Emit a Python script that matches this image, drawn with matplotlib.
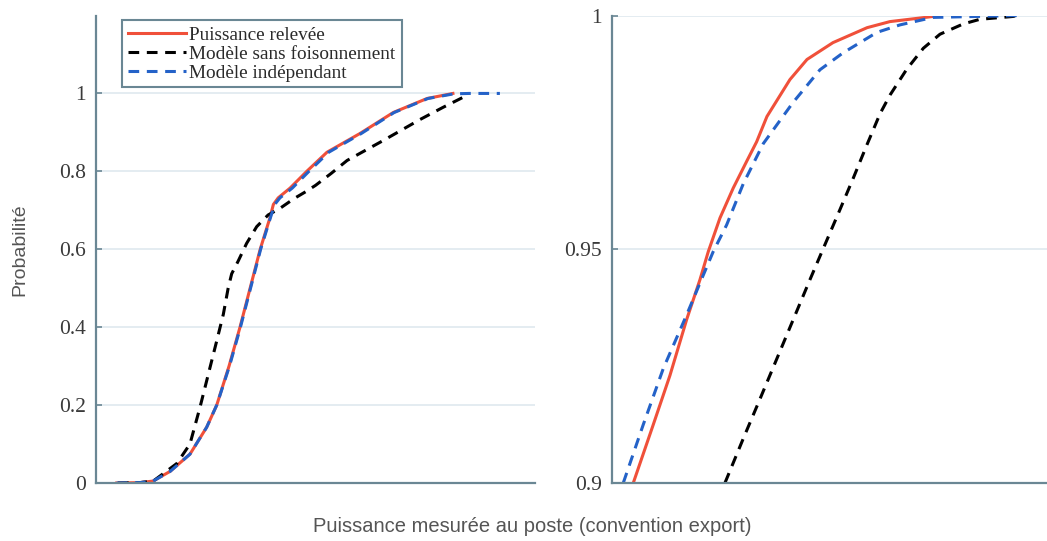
import matplotlib.pyplot as plt

# full view (probability vs measured power, arbitrary units)
full_x_rel = [4.7, 10, 13.0, 16.9, 21.4, 25.2, 27.5, 30.3, 32.8, 35.1, 37.4, 38.5, 39.6, 40.4, 41.5, 44.2, 48.0, 52.6, 60.1, 67.7, 75.4, 81.3]
full_y_rel = [0, 0.001, 0.005, 0.03, 0.074, 0.143, 0.2, 0.3, 0.4, 0.5, 0.6, 0.64, 0.68, 0.715, 0.732, 0.757, 0.8, 0.849, 0.897, 0.951, 0.987, 1.0]

full_x_sans = [5.0, 10, 13.05, 18.4, 21.4, 23.7, 25.6, 27.5, 29.0, 30.1, 30.9, 32.4, 34.3, 36.6, 39.2, 41.9, 45.1, 47.8, 50.0, 53.6, 57.2, 65.4, 73.8, 79.0, 83.6, 84.7]
full_y_sans = [0, 0.001, 0.005, 0.05, 0.1, 0.195, 0.28, 0.365, 0.433, 0.5, 0.537, 0.57, 0.615, 0.658, 0.688, 0.705, 0.73, 0.748, 0.764, 0.795, 0.828, 0.879, 0.933, 0.964, 0.99, 1.0]

full_x_ind = [4.7, 10, 13.0, 16.9, 21.4, 25.2, 27.5, 30.4, 32.9, 35.2, 37.5, 38.6, 39.7, 40.7, 41.9, 44.7, 48.5, 53.0, 60.4, 67.9, 75.6, 81.5, 85.0, 92.0]
full_y_ind = [0, 0.001, 0.005, 0.03, 0.074, 0.143, 0.2, 0.3, 0.4, 0.5, 0.6, 0.64, 0.68, 0.715, 0.732, 0.757, 0.8, 0.849, 0.897, 0.951, 0.987, 0.999, 1.0, 1.0]

# zoom on the upper tail
zoom_x_rel = [60.01, 61.43, 62.61, 63.80, 64.74, 65.33, 66.16, 67.10, 68.05, 68.76, 69.49, 71.12, 72.33, 74.17, 76.59, 78.21, 81.27, 81.76]
zoom_y_rel = [0.9, 0.9125, 0.923, 0.935, 0.9435, 0.9495, 0.9567, 0.9631, 0.9688, 0.973, 0.9784, 0.9863, 0.9906, 0.9942, 0.9974, 0.9987, 0.9998, 1.0]

zoom_x_sans = [66.51, 67.81, 69.0, 70.18, 71.36, 72.54, 73.49, 74.67, 75.61, 76.56, 77.51, 78.22, 79.40, 80.58, 81.76, 83.41, 84.60, 86.94, 87.22]
zoom_y_sans = [0.9, 0.9095, 0.918, 0.9265, 0.935, 0.9435, 0.9502, 0.9585, 0.9652, 0.9722, 0.979, 0.983, 0.9885, 0.993, 0.996, 0.9982, 0.9992, 0.9998, 1.0]

zoom_x_ind = [59.30, 60.72, 62.14, 63.80, 64.98, 65.68, 66.63, 67.81, 69.23, 71.34, 73.25, 74.88, 77.29, 78.93, 81.27, 87.44]
zoom_y_ind = [0.9, 0.9125, 0.9245, 0.936, 0.9445, 0.9495, 0.9552, 0.964, 0.9726, 0.9814, 0.9884, 0.992, 0.9964, 0.998, 0.9996, 1.0]

labels = ["Puissance relevée", "Modèle sans foisonnement", "Modèle indépendant"]

RED = "#f0503a"
BLUE = "#2462c8"
SPINE = "#6a8794"
GRID = "#dde7ee"
TICKC = "#3a3a3a"

fig = plt.figure(figsize=(10.47, 5.41), dpi=100)
ax1 = fig.add_axes([0.0917, 0.1072, 0.4193, 0.8641])
ax2 = fig.add_axes([0.5845, 0.1072, 0.4155, 0.8641])


def style(ax):
    for s in ["top", "right"]:
        ax.spines[s].set_visible(False)
    for s in ["left", "bottom"]:
        ax.spines[s].set_color(SPINE)
        ax.spines[s].set_linewidth(1.6)
    ax.set_xticks([])
    ax.tick_params(axis="y", direction="in", length=4, width=1.2, color=SPINE,
                   labelsize=15.5, labelcolor=TICKC, pad=7)
    for t in ax.get_yticklabels():
        t.set_fontfamily("Liberation Serif")
    ax.yaxis.grid(True, color=GRID, lw=1.1)
    ax.set_axisbelow(True)


def draw(ax, xr, yr, xs, ys, xi, yi):
    ax.plot(xr, yr, color=RED, lw=2.2, label=labels[0])
    ax.plot(xs, ys, color="black", lw=2.2, ls=(0, (3.5, 2.5)), label=labels[1])
    ax.plot(xi, yi, color=BLUE, lw=2.2, ls=(0, (3.5, 2.5)), label=labels[2])


draw(ax1, full_x_rel, full_y_rel, full_x_sans, full_y_sans, full_x_ind, full_y_ind)
ax1.set_xlim(0, 100)
ax1.set_ylim(0, 1.2)
ax1.set_yticks([0, 0.2, 0.4, 0.6, 0.8, 1])
ax1.set_yticklabels(["0", "0.2", "0.4", "0.6", "0.8", "1"])
style(ax1)

draw(ax2, zoom_x_rel, zoom_y_rel, zoom_x_sans, zoom_y_sans, zoom_x_ind, zoom_y_ind)
ax2.set_xlim(58.5, 89.35)
ax2.set_ylim(0.9, 1.0)
ax2.set_yticks([0.9, 0.95, 1])
ax2.set_yticklabels(["0.9", "0.95", "1"])
style(ax2)

leg = ax1.legend(loc="upper left", bbox_to_anchor=(0.059, 0.99), borderaxespad=0,
                 prop={"family": "Liberation Serif", "size": 13.9}, fancybox=False,
                 handlelength=3.0, handletextpad=0.2, labelspacing=0.08,
                 borderpad=0.3, framealpha=1)
leg.get_frame().set_edgecolor(SPINE)
leg.get_frame().set_linewidth(1.5)
for t in leg.get_texts():
    t.set_color("#2a2a2a")

fig.text(0.019, 0.538, "Probabilité", rotation=90, ha="center", va="center",
         fontsize=14, color="#555555", family="Liberation Sans")
fig.text(0.508, 0.027, "Puissance mesurée au poste (convention export)", ha="center",
         va="center", fontsize=14.5, color="#555555", family="Liberation Sans")

fig.savefig("out.png", dpi=100)
